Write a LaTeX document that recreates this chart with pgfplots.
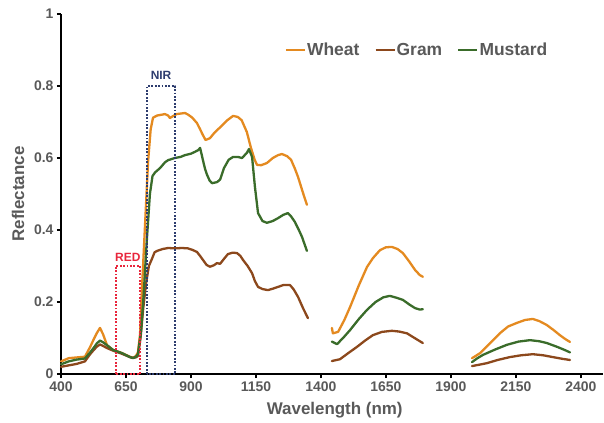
\documentclass[border=0pt]{standalone}
\usepackage{pgfplots}
\pgfplotsset{compat=1.18}
\usepackage{fontspec}
\setmainfont{Liberation Sans}
\definecolor{wheat}{RGB}{228,138,32}
\definecolor{gram}{RGB}{140,72,28}
\definecolor{mustard}{RGB}{58,108,42}
\definecolor{tgray}{RGB}{89,89,89}
\definecolor{redbox}{RGB}{232,38,60}
\definecolor{nirbox}{RGB}{45,60,110}
\begin{document}
\begin{tikzpicture}
\path[use as bounding box] (0,0) rectangle (604bp,423bp);
\begin{axis}[
  at={(61bp,49bp)}, anchor=south west,
  scale only axis, width=542bp, height=360bp,
  xmin=400, xmax=2485, ymin=0, ymax=1,
  axis lines=left,
  axis line style={-, black, line width=2bp},
  xtick={400,650,900,1150,1400,1650,1900,2150,2400},
  ytick={0,0.2,0.4,0.6,0.8,1},
  yticklabels={0,0.2,0.4,0.6,0.8,1},
  tick align=outside,
  major tick length=4bp,
  tick style={black, line width=1.6bp},
  /pgf/number format/assume math mode=true,
  /pgf/number format/1000 sep={},
  ticklabel style={font=\bfseries\fontsize{14}{16}\selectfont, text=tgray},
  xlabel={Wavelength (nm)},
  ylabel={Reflectance},
  label style={font=\bfseries\fontsize{17}{19}\selectfont, text=tgray},
  xlabel style={at={(axis description cs:0.505,-0.1)}, anchor=center},
  ylabel style={at={(axis description cs:-0.079,0.5)}, anchor=center},
  every axis plot/.append style={line width=2.3bp, line join=round, line cap=round},
  legend columns=3,
  legend style={at={(axis description cs:0.905,0.9)}, anchor=east, draw=none, fill=none,
    font=\bfseries\fontsize{17.5}{19}\selectfont, text=tgray,
    nodes={inner sep=1bp},
    /tikz/every even column/.append style={column sep=14bp}},
  legend image code/.code={\draw[line width=2.3bp, line cap=butt] (0bp,0bp) -- (19bp,0bp);},
  clip=false,
]
% ---------- Region 1 ----------
\addplot[wheat] coordinates {
(400,0.035)(430,0.044)(460,0.046)(492,0.048)(512,0.075)(525,0.095)(538,0.114)(550,0.128)(562,0.110)(577,0.080)(600,0.067)(635,0.058)(665,0.048)(677,0.045)(688,0.050)(696,0.060)(704,0.110)(711,0.230)(723,0.410)(735,0.590)(745,0.680)(754,0.712)(770,0.718)(800,0.722)(812,0.718)(819,0.711)(830,0.716)(845,0.722)(877,0.725)(890,0.720)(905,0.712)(923,0.697)(935,0.680)(945,0.665)(956,0.650)(973,0.655)(990,0.670)(1019,0.690)(1040,0.705)(1062,0.717)(1080,0.714)(1095,0.705)(1115,0.672)(1130,0.630)(1145,0.595)(1154,0.581)(1170,0.580)(1192,0.586)(1215,0.600)(1235,0.608)(1250,0.611)(1270,0.605)(1285,0.595)(1300,0.570)(1312,0.547)(1331,0.503)(1346,0.470)};
\addlegendentry{Wheat}
\addplot[gram] coordinates {
(400,0.020)(430,0.024)(460,0.028)(492,0.035)(512,0.055)(525,0.066)(538,0.076)(550,0.082)(562,0.078)(577,0.072)(600,0.065)(635,0.056)(665,0.047)(677,0.045)(688,0.046)(696,0.050)(706,0.100)(716,0.180)(727,0.250)(738,0.300)(750,0.320)(760,0.338)(770,0.342)(790,0.347)(812,0.350)(840,0.349)(865,0.350)(888,0.349)(905,0.345)(923,0.339)(935,0.328)(946,0.317)(960,0.303)(973,0.298)(988,0.302)(1000,0.308)(1012,0.306)(1025,0.318)(1042,0.333)(1060,0.337)(1077,0.336)(1090,0.328)(1100,0.317)(1118,0.300)(1135,0.280)(1146,0.258)(1158,0.242)(1175,0.236)(1196,0.233)(1215,0.237)(1235,0.242)(1255,0.247)(1281,0.247)(1295,0.235)(1312,0.214)(1331,0.183)(1350,0.155)};
\addlegendentry{Gram}
\addplot[mustard] coordinates {
(400,0.027)(430,0.035)(460,0.040)(492,0.043)(512,0.060)(525,0.072)(538,0.085)(550,0.093)(562,0.088)(577,0.080)(600,0.067)(635,0.058)(665,0.047)(677,0.044)(688,0.048)(696,0.055)(708,0.120)(718,0.220)(730,0.370)(742,0.500)(752,0.550)(762,0.560)(781,0.572)(800,0.588)(812,0.594)(838,0.600)(860,0.603)(877,0.608)(900,0.612)(915,0.617)(928,0.622)(935,0.628)(941,0.610)(946,0.594)(954,0.570)(962,0.553)(972,0.537)(981,0.530)(1000,0.533)(1012,0.540)(1027,0.572)(1045,0.595)(1062,0.603)(1080,0.603)(1096,0.600)(1115,0.614)(1123,0.625)(1135,0.603)(1146,0.520)(1158,0.447)(1175,0.425)(1192,0.420)(1215,0.425)(1235,0.433)(1255,0.442)(1273,0.447)(1285,0.438)(1300,0.422)(1315,0.400)(1327,0.381)(1346,0.342)};
\addlegendentry{Mustard}
% ---------- Region 2 ----------
\addplot[wheat, forget plot] coordinates {
(1442,0.128)(1446,0.113)(1466,0.117)(1490,0.150)(1512,0.186)(1545,0.245)(1577,0.297)(1600,0.322)(1627,0.344)(1650,0.352)(1673,0.353)(1695,0.347)(1715,0.336)(1740,0.312)(1762,0.289)(1780,0.275)(1792,0.270)};
\addplot[gram, forget plot] coordinates {
(1442,0.036)(1473,0.041)(1505,0.058)(1538,0.075)(1570,0.093)(1600,0.108)(1635,0.117)(1673,0.120)(1700,0.118)(1731,0.113)(1760,0.100)(1792,0.086)};
\addplot[mustard, forget plot] coordinates {
(1442,0.090)(1462,0.083)(1485,0.100)(1512,0.122)(1545,0.152)(1577,0.178)(1610,0.200)(1640,0.213)(1665,0.217)(1690,0.212)(1715,0.206)(1740,0.193)(1762,0.183)(1780,0.179)(1792,0.180)};
% ---------- Region 3 ----------
\addplot[wheat, forget plot] coordinates {
(1981,0.044)(1995,0.050)(2012,0.058)(2050,0.085)(2088,0.113)(2120,0.132)(2154,0.142)(2185,0.150)(2215,0.153)(2240,0.147)(2269,0.136)(2295,0.122)(2319,0.108)(2340,0.097)(2358,0.089)};
\addplot[gram, forget plot] coordinates {
(1981,0.022)(2010,0.026)(2038,0.030)(2080,0.039)(2127,0.047)(2170,0.052)(2215,0.055)(2255,0.052)(2292,0.047)(2330,0.042)(2358,0.039)};
\addplot[mustard, forget plot] coordinates {
(1981,0.033)(2000,0.043)(2023,0.053)(2070,0.068)(2115,0.081)(2160,0.090)(2204,0.094)(2240,0.091)(2269,0.086)(2310,0.075)(2340,0.066)(2358,0.060)};
% ---------- Band boxes ----------
\addplot[redbox, line width=2bp, line cap=butt, dash pattern=on 1.8bp off 1.6bp, forget plot] coordinates {
(610,0)(610,0.3)(703,0.3)(703,0)(610,0)};
\addplot[nirbox, line width=2bp, line cap=butt, dash pattern=on 1.8bp off 1.6bp, forget plot] coordinates {
(731,0)(731,0.8)(840,0.8)(840,0)(731,0)};
\node[text=redbox, font=\bfseries\fontsize{12}{14}\selectfont] at (axis cs:657,0.323) {RED};
\node[text=nirbox, font=\bfseries\fontsize{12}{14}\selectfont] at (axis cs:785,0.83) {NIR};
\end{axis}
\end{tikzpicture}
\end{document}
